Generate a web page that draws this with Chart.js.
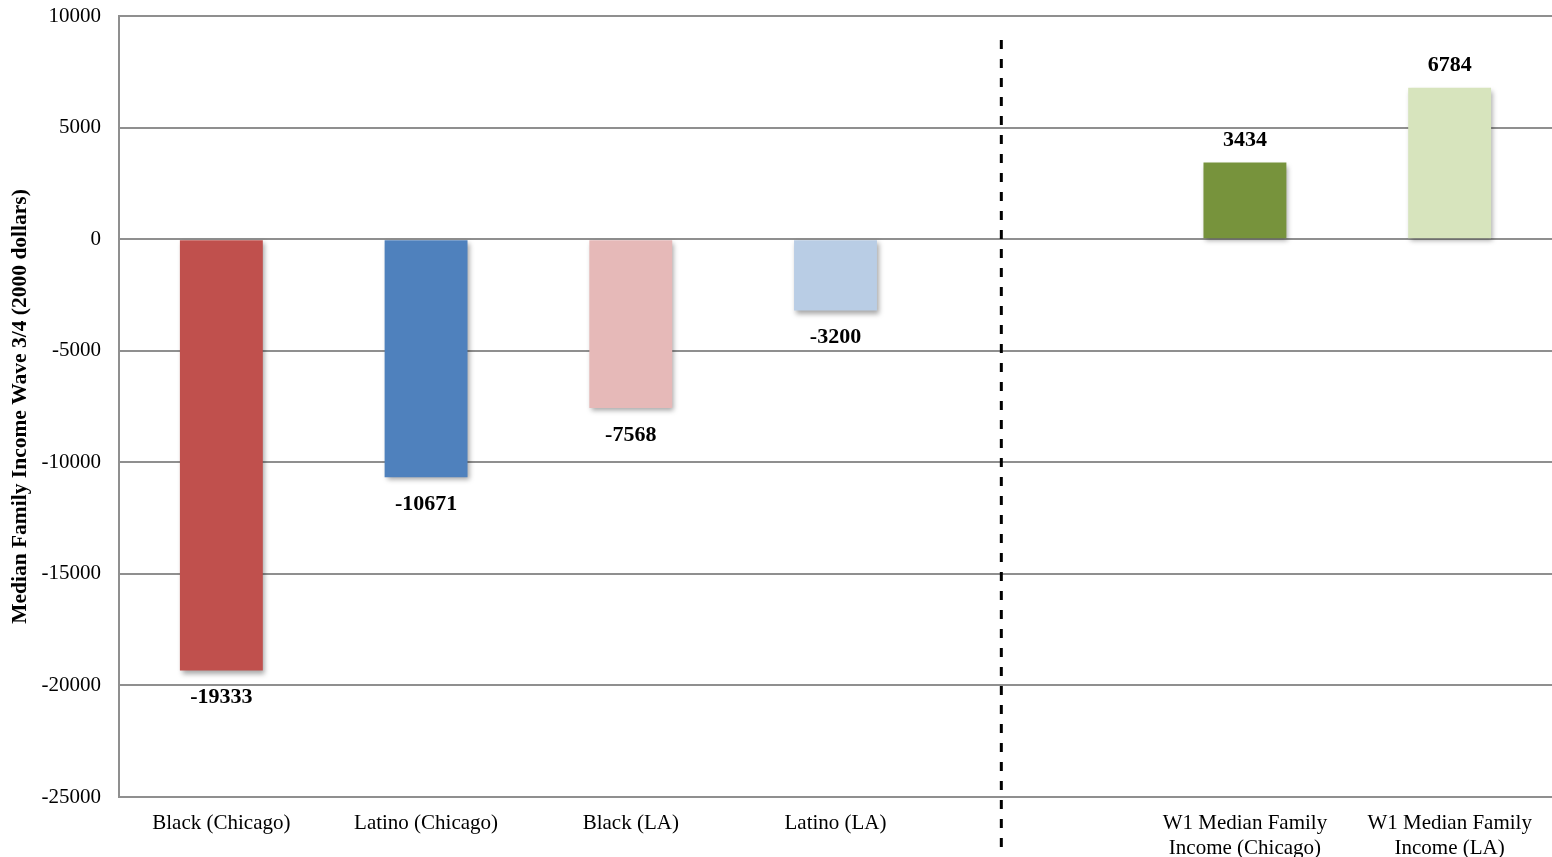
<!DOCTYPE html>
<html>
<head>
<meta charset="utf-8">
<script src="https://cdn.jsdelivr.net/npm/chart.js@4/dist/chart.umd.min.js"></script>
<style>
  html, body { margin: 0; padding: 0; background: #fff; }
  #wrap { width: 1552px; height: 857px; }
</style>
</head>
<body>
<div id="wrap"><canvas id="incomeChange"></canvas></div>
<script>
// change in median family income, wave 1 to wave 3/4
const categories = [
  "Black (Chicago)",
  "Latino (Chicago)",
  "Black (LA)",
  "Latino (LA)",
  "",
  ["W1 Median Family", "Income (Chicago)"],
  ["W1 Median Family", "Income (LA)"],
];
const incomeChange = [-19333, -10671, -7568, -3200, null, 3434, 6784];
const barColors = ["#C0504D", "#4F81BD", "#E6B9B8", "#B9CDE5", "#FFFFFF", "#77933C", "#D7E4BD"];
const yTicks = [-25000, -20000, -15000, -10000, -5000, 0, 5000, 10000];

const serif = "'Liberation Serif', 'Times New Roman', serif";

// soft drop shadow under the bars
const barShadow = {
  id: "barShadow",
  beforeDatasetsDraw(chart) {
    const ctx = chart.ctx;
    ctx.save();
    ctx.shadowColor = "rgba(0,0,0,0.35)";
    ctx.shadowBlur = 5;
    ctx.shadowOffsetX = 2;
    ctx.shadowOffsetY = 3;
  },
  afterDatasetsDraw(chart) {
    chart.ctx.restore();
  },
};

// value labels above positive bars, below negative ones
const valueLabels = {
  id: "valueLabels",
  afterDatasetsDraw(chart) {
    const ctx = chart.ctx;
    const meta = chart.getDatasetMeta(0);
    ctx.save();
    ctx.font = "bold 22px " + serif;
    ctx.fillStyle = "#000";
    ctx.textAlign = "center";
    ctx.textBaseline = "middle";
    meta.data.forEach((bar, i) => {
      const v = incomeChange[i];
      if (v === null) return;
      const y = v < 0 ? bar.y + 27 : bar.y - 22;
      ctx.fillText(String(v), bar.x, y);
    });
    ctx.restore();
  },
};

// dashed divider between the group changes and the W1 medians
const divider = {
  id: "divider",
  afterDraw(chart) {
    const ctx = chart.ctx;
    const x3 = chart.scales.x.getPixelForValue(3);
    const x4 = chart.scales.x.getPixelForValue(4);
    const x = x3 + 0.81 * (x4 - x3);
    ctx.save();
    ctx.strokeStyle = "#000";
    ctx.lineWidth = 3;
    ctx.setLineDash([9, 10]);
    ctx.beginPath();
    ctx.moveTo(x, chart.chartArea.top + 24);
    ctx.lineTo(x, chart.height + 20);
    ctx.stroke();
    ctx.restore();
  },
};

new Chart(document.getElementById("incomeChange"), {
  type: "bar",
  data: {
    labels: categories,
    datasets: [
      {
        data: incomeChange,
        backgroundColor: barColors,
        borderWidth: 0,
        barPercentage: 0.405,
        categoryPercentage: 1,
      },
    ],
  },
  plugins: [barShadow, valueLabels, divider],
  options: {
    responsive: true,
    maintainAspectRatio: false,
    animation: false,
    layout: { padding: { top: 16, right: -4, bottom: 0, left: 0 } },
    plugins: {
      legend: { display: false },
      tooltip: { enabled: false },
    },
    scales: {
      x: {
        afterFit: (scale) => {
          scale.height = 60;
          scale.paddingLeft = 0;
          scale.paddingRight = 0;
        },
        grid: { display: false, drawTicks: false },
        border: { display: true, color: "#8f8f8f", width: 2 },
        ticks: {
          color: "#000",
          padding: 14,
          maxRotation: 0,
          autoSkip: false,
          font: { family: serif, size: 21, lineHeight: 1.2 },
        },
      },
      y: {
        min: -25000,
        max: 10000,
        afterFit: (scale) => {
          scale.width = 119;
          scale.paddingTop = 0;
          scale.paddingBottom = 0;
        },
        afterBuildTicks: (scale) => {
          scale.ticks = yTicks.map((v) => ({ value: v }));
        },
        grid: { color: "#8f8f8f", lineWidth: 2, drawTicks: false },
        border: { display: true, color: "#8f8f8f", width: 2 },
        ticks: {
          color: "#000",
          padding: 18,
          font: { family: serif, size: 21 },
          callback: (v) => String(v),
        },
        title: {
          display: true,
          text: "Median Family Income Wave 3/4 (2000 dollars)",
          color: "#000",
          padding: { top: 8, bottom: 0 },
          font: { family: serif, size: 21.5, weight: "bold", lineHeight: 1.2 },
        },
      },
    },
  },
});
</script>
</body>
</html>
